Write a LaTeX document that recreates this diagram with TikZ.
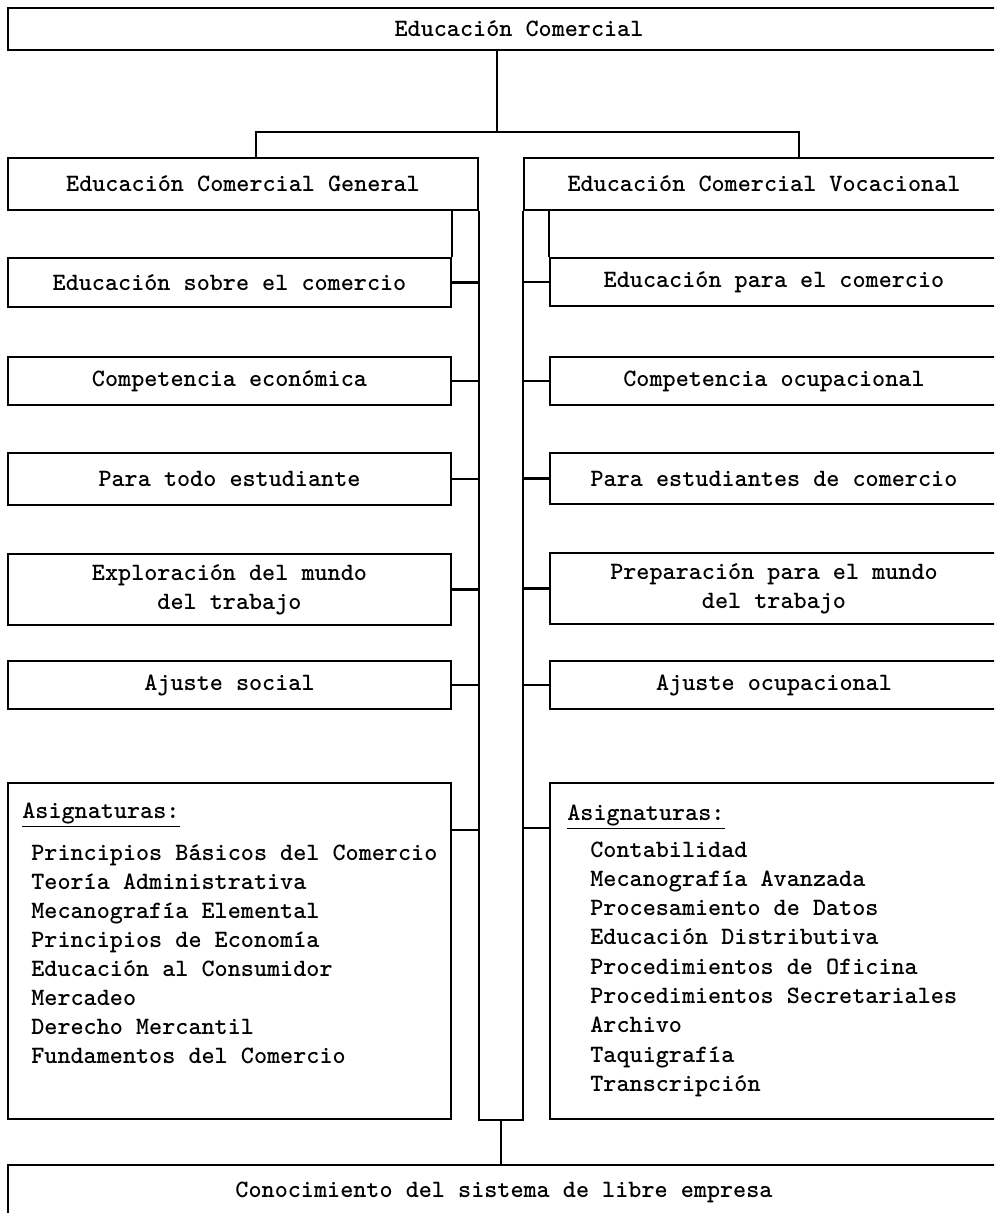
\documentclass[tikz,border=0pt]{standalone}
\usetikzlibrary{positioning}
\newcommand{\boxfont}{\ttfamily\bfseries\fontsize{14.2}{16.5}\selectfont}
\tikzset{
  box/.style={draw, line width=1.2pt, inner sep=0pt, align=center, font=\boxfont},
  lbox/.style={box, minimum width=8.86cm},
  rbox/.style={box, minimum width=8.96cm},
  item/.style={anchor=base west, inner sep=0pt, font=\boxfont},
  link/.style={line width=1.2pt}
}
\begin{document}
\begin{tikzpicture}[x=0.02cm, y=-0.02cm]
    \useasboundingbox (0,0) rectangle (994,1213);
    \clip (0,0) rectangle (994,1213);

    \node (top) [box, minimum width=20.44cm, minimum height=0.84cm] at (519,29) {Educación Comercial};
    \node (gen) [box, minimum width=9.4cm, minimum height=1.04cm] at (243,184) {Educación Comercial General};
    \node (voc) [box, minimum width=9.6cm, minimum height=1.04cm] at (764,184) {Educación Comercial Vocacional};

    % general side
    \node (lb1) [lbox, minimum height=0.98cm] at (229.5,282.5) {Educación sobre el comercio};
    \node (lb2) [lbox, minimum height=0.96cm] at (229.5,381) {Competencia económica};
    \node (lb3) [lbox, minimum height=1.04cm] at (229.5,479) {Para todo estudiante};
    \node (lb4) [lbox, minimum height=1.42cm] at (229.5,589.5) {Exploración del mundo\\del trabajo};
    \node (lb5) [lbox, minimum height=0.96cm] at (229.5,685) {Ajuste social};
    \node (lsubj) [lbox, minimum height=6.72cm] at (229.5,951) {};

    % vocational side
    \node (rb1) [rbox, minimum height=0.96cm] at (774,282) {Educación para el comercio};
    \node (rb2) [rbox, minimum height=0.96cm] at (774,381) {Competencia ocupacional};
    \node (rb3) [rbox, minimum height=1.02cm] at (774,478.5) {Para estudiantes de comercio};
    \node (rb4) [rbox, minimum height=1.42cm] at (774,588.5) {Preparación para el mundo\\del trabajo};
    \node (rb5) [rbox, minimum height=0.96cm] at (774,685) {Ajuste ocupacional};
    \node (rsubj) [rbox, minimum height=6.72cm] at (774,951) {};

    \node (bot) [box, minimum width=19.84cm, minimum height=1.1cm] at (504,1192.5) {Conocimiento del sistema de libre empresa};

    % subject lists
    \node (lhead) [item] at (22,818) {\underline{Asignaturas:}};
    \foreach \txt [count=\i from 0] in {Principios Básicos del Comercio, Teoría Administrativa,
        Mecanografía Elemental, Principios de Economía, Educación al Consumidor, Mercadeo,
        Derecho Mercantil, Fundamentos del Comercio}
        \node (lsub\i) [item] at (31,860+29*\i) {\txt};
    \node (rhead) [item] at (567,820) {\underline{Asignaturas:}};
    \foreach \txt [count=\i from 0] in {Contabilidad, Mecanografía Avanzada, Procesamiento de Datos,
        Educación Distributiva, Procedimientos de Oficina, Procedimientos Secretariales,
        Archivo, Taquigrafía, Transcripción}
        \node (rsub\i) [item] at (590,857+29.3*\i) {\txt};

    % connectors
    \coordinate (split) at (497,132);
    \coordinate (gl) at (256,132);
    \coordinate (gr) at (799,132);
    \coordinate (jn) at (501,1119);
    \coordinate (lj) at (451,830);
    \coordinate (rj) at (550,828);
    \draw[link] (split |- top.south) -- (split);
    \draw[link] (gl |- gen.north) -- (gl) -- (gr) -- (gr |- voc.north);
    \draw[link] (gen.south east) -- (gen.east |- lsubj.south) -- (voc.west |- lsubj.south) -- (voc.south west);
    \draw[link] (jn) -- (jn |- bot.north);
    \draw[link] (lb1.north east) -- (lb1.north east |- gen.south);
    \draw[link] (rb1.north west) -- (rb1.north west |- voc.south);
    \foreach \n in {lb1,lb2,lb3,lb4,lb5}
        \draw[link] (\n.east) -- (\n.east -| gen.east);
    \foreach \n in {rb1,rb2,rb3,rb4,rb5}
        \draw[link] (\n.west) -- (\n.west -| voc.west);
    \draw[link] (lj) -- (lj -| gen.east);
    \draw[link] (rj) -- (rj -| voc.west);
\end{tikzpicture}
\end{document}
